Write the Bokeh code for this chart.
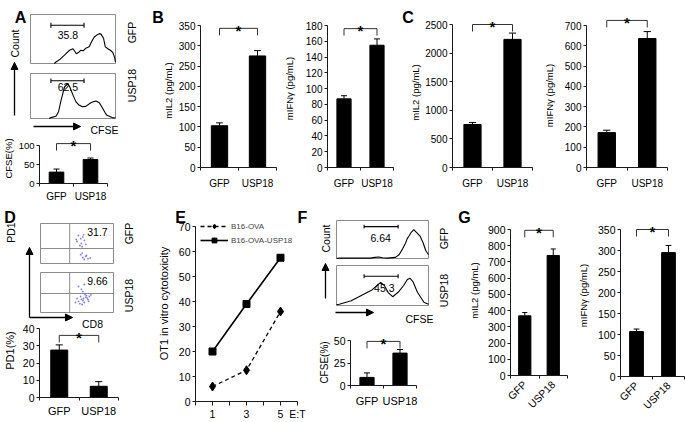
import math
from bokeh.plotting import figure
from bokeh.layouts import row, column
from bokeh.models import (Range1d, FixedTicker, Label, Arrow, NormalHead,
                          Legend, LegendItem)
from bokeh.core.properties import value
from bokeh.embed import file_html
from bokeh.resources import INLINE

# ---------------- data ----------------
cats = ["GFP", "USP18"]

a_cfse = [30, 63]
a_cfse_err = [8, 4]
b_il2 = [103, 275]
b_il2_err = [7, 13]
b_ifng = [87, 155]
b_ifng_err = [4, 8]
c_il2 = [752, 2240]
c_il2_err = [35, 110]
c_ifng = [172, 636]
c_ifng_err = [12, 34]
d_pd1 = [27.5, 6.5]
d_pd1_err = [3.0, 2.7]
f_cfse = [9, 36]
f_cfse_err = [5, 4]
g_il2 = [368, 740]
g_il2_err = [20, 40]
g_ifng = [107, 295]
g_ifng_err = [6, 17]

e_ratio = [1, 3, 5]
e_ova = [6, 12.5, 36]
e_ova_usp18 = [20, 39, 57.5]
e_series = ["B16-OVA", "B16-OVA-USP18"]

# CFSE histograms (x: CFSE channel 0-100, y: relative count 0-1)
a_gfp_x = [28, 30, 35, 40, 43, 46, 50, 54, 57, 59, 62, 65, 69, 72, 75, 78, 81, 83, 86, 88, 91, 94, 97, 99, 100]
a_gfp_y = [0.0, 0.03, 0.09, 0.17, 0.22, 0.27, 0.30, 0.20, 0.23, 0.27, 0.26, 0.31, 0.34, 0.45, 0.54, 0.58, 0.61, 0.60, 0.51, 0.34, 0.30, 0.27, 0.22, 0.12, 0.03]
a_usp_x = [22, 24, 30, 33, 36, 40, 44, 46.5, 50, 53.5, 57, 61, 65, 71, 74, 77, 81, 84.5, 88, 90, 96, 100]
a_usp_y = [0.0, 0.02, 0.05, 0.15, 0.41, 0.70, 0.78, 0.69, 0.52, 0.37, 0.30, 0.26, 0.27, 0.35, 0.37, 0.39, 0.35, 0.24, 0.12, 0.07, 0.02, 0.01]
a_gate = [24, 63]
a_gate_y = [0.78, 0.84]
a_pct = ["35.8", "62.5"]

f_gfp_x = [0, 3, 20, 37, 42, 46, 50, 55, 64, 68, 72, 75, 77, 79, 81, 84, 86, 88, 91, 94, 97, 100]
f_gfp_y = [0.0, 0.01, 0.01, 0.01, 0.03, 0.04, 0.02, 0.01, 0.03, 0.10, 0.26, 0.40, 0.53, 0.60, 0.68, 0.76, 0.71, 0.66, 0.58, 0.42, 0.21, 0.10]
f_usp_x = [0, 3, 16, 27, 38, 45, 48, 52, 56, 61, 67, 73, 77, 80, 83, 88, 95, 100]
f_usp_y = [0.02, 0.03, 0.12, 0.25, 0.38, 0.52, 0.58, 0.50, 0.33, 0.22, 0.33, 0.50, 0.65, 0.68, 0.60, 0.33, 0.08, 0.03]
f_gate = [30, 67]
f_gate_y = [0.84, 0.73]
f_pct = ["6.64", "45.3"]

# PD1 / CD8 flow dots (x: CD8, y: PD1, 0-100)
d_gfp_x = [52, 55, 58, 50, 56, 60, 54, 62, 57, 49, 59, 55, 58, 62, 60, 65, 57, 63, 68]
d_gfp_y = [70, 62, 66, 55, 50, 58, 45, 48, 42, 60, 72, 22, 15, 18, 10, 12, 26, 20, 14]
d_usp_x = [52, 56, 60, 58, 50, 55, 58, 62, 60, 65, 57, 63, 52, 67, 61, 54, 59, 66, 48, 64, 56, 69]
d_usp_y = [65, 58, 70, 52, 35, 40, 30, 38, 25, 32, 20, 42, 28, 40, 45, 22, 35, 28, 25, 36, 33, 44]
d_quad_x = 40
d_quad_y = [37.5, 47.5]
d_pct = ["31.7", "9.66"]

# plotting domains of the histogram / dot-plot boxes
HIST_X = (0, 100)
HIST_Y = (0, 1)
FLOW_XY = (0, 100)

# ---------------- helpers ----------------
FONT = "Liberation Sans"
AX = "#1a1a1a"
BOX = "#8c8c8c"
R90 = math.pi / 2


def prange(pa, va, pb, vb, p_start, p_end):
    k = (vb - va) / (pb - pa)
    return Range1d(va + (p_start - pa) * k, va + (p_end - pa) * k)


def panel(box, xr, yr):
    x0, y0, x1, y1 = box
    p = figure(width=x1 - x0, height=y1 - y0, x_range=xr, y_range=yr,
               toolbar_location=None, output_backend="svg",
               min_border_left=0, min_border_right=0, min_border_top=0, min_border_bottom=0)
    p.outline_line_color = None
    p.border_fill_color = "white"
    p.background_fill_color = "white"
    p.grid.visible = False
    return p


def text(p, box, x, y, s, size, angle=0.0, align="center", baseline="middle", bold=False):
    p.add_layout(Label(x=x - box[0], y=box[3] - y, x_units="screen", y_units="screen",
                       text=s, angle=angle, text_align=align, text_baseline=baseline,
                       text_font=FONT, text_font_size=f"{size}px",
                       text_font_style="bold" if bold else "normal", text_color="black"))


def arrow(p, box, x0, y0, x1, y1, head=True):
    p.add_layout(Arrow(x_start=x0 - box[0], y_start=box[3] - y0,
                       x_end=x1 - box[0], y_end=box[3] - y1,
                       start_units="screen", end_units="screen",
                       end=NormalHead(size=7, fill_color="black", line_color="black", line_width=1) if head else None,
                       line_color="black", line_width=1.3))


def bar_panel(box, ax, ax_end, py0, py_top, top_tick, step, vals, errs, brk, ylabel, ylab_xy,
              fs=(10, 10, 9.5), cat_standoff=7, rot=False):
    n = len(cats)
    xr = prange(ax, 0.5, ax_end, n + 0.5, box[0], box[2])
    yr = prange(py0, 0, py_top, top_tick, box[3], box[1])
    p = panel(box, xr, yr)
    xs = list(range(1, n + 1))
    p.vbar(x=xs, top=vals, width=0.43, fill_color="black", line_color="black")
    tops = [v + e for v, e in zip(vals, errs)]
    p.segment(x0=xs, y0=vals, x1=xs, y1=tops, line_color="black", line_width=1)
    p.segment(x0=[x - 0.09 for x in xs], y0=tops, x1=[x + 0.09 for x in xs], y1=tops,
              line_color="black", line_width=1)
    leg = 7 * top_tick / (py0 - py_top)
    p.line(x=[xs[0], xs[0], xs[-1], xs[-1]], y=[brk - leg, brk, brk, brk - leg],
           line_color="#333333", line_width=1)
    p.text(x=[(xs[0] + xs[-1]) / 2], y=[brk], text=["*"], text_align="center",
           text_baseline="alphabetic", text_font=value(FONT), text_font_size="15px",
           text_font_style="bold", y_offset=2, text_color="black")
    xa = p.xaxis[0]
    xa.fixed_location = 0
    xa.ticker = FixedTicker(ticks=xs, minor_ticks=[x - 0.5 for x in xs] + [xs[-1] + 0.5])
    xa.bounds = (0.5, n + 0.5)
    xa.major_label_overrides = {x: c for x, c in zip(xs, cats)}
    xa.major_tick_line_color = None
    xa.major_tick_out = 0
    xa.major_tick_in = 0
    xa.minor_tick_in = 0
    xa.minor_tick_out = 3
    xa.minor_tick_line_color = AX
    xa.axis_line_color = AX
    xa.major_label_text_font = FONT
    xa.major_label_text_font_size = f"{fs[1]}px"
    xa.major_label_text_color = "black"
    xa.major_label_standoff = cat_standoff
    if rot:
        xa.major_label_orientation = math.pi / 4
    ya = p.yaxis[0]
    ya.fixed_location = 0.5
    ya.ticker = FixedTicker(ticks=list(range(0, top_tick + 1, step)))
    ya.bounds = (0, top_tick)
    ya.major_tick_in = 0
    ya.major_tick_out = 3
    ya.major_tick_line_color = AX
    ya.minor_tick_line_color = None
    ya.axis_line_color = AX
    ya.major_label_standoff = 2
    ya.major_label_text_font = FONT
    ya.major_label_text_font_size = f"{fs[0]}px"
    ya.major_label_text_color = "black"
    text(p, box, ylab_xy[0], ylab_xy[1], ylabel, fs[2], angle=R90)
    return p


def add_hist(p, yname, xs, ys, gate, gy, pct, ptx, pty):
    kw = dict(x_range_name="hx", y_range_name=yname)
    p.quad(left=[HIST_X[0]], right=[HIST_X[1]], bottom=[HIST_Y[0]], top=[HIST_Y[1]],
           fill_color=None, line_color=BOX, line_width=1, **kw)
    p.line(xs, ys, line_color="black", line_width=1.1, **kw)
    p.segment(x0=[gate[0]], y0=[gy], x1=[gate[1]], y1=[gy], line_color="black", line_width=1.1, **kw)
    p.segment(x0=gate, y0=[gy - 0.05] * 2, x1=gate, y1=[gy + 0.05] * 2,
              line_color="black", line_width=1.1, **kw)
    p.text(x=[ptx], y=[pty], text=[pct], text_align="center", text_baseline="middle",
           text_font=value(FONT), text_font_size="10.5px", text_color="black", **kw)


def add_flow(p, yname, dx, dy, qx, qy, pct):
    kw = dict(x_range_name="fx", y_range_name=yname)
    lo, hi = FLOW_XY
    p.quad(left=[lo], right=[hi], bottom=[lo], top=[hi], fill_color=None, line_color=BOX,
           line_width=1, **kw)
    p.segment(x0=[qx, lo], y0=[lo, qy], x1=[qx, hi], y1=[hi, qy], line_color=BOX, line_width=1, **kw)
    p.scatter(dx, dy, size=1.8, fill_color="#4a4ad8", line_color=None, alpha=0.7, **kw)
    p.text(x=[78], y=[79], text=[pct], text_align="center", text_baseline="middle",
           text_font=value(FONT), text_font_size="10.5px", text_color="black", **kw)


# ---------------- panel A ----------------
bx = (0, 0, 150, 200)
pA = bar_panel(bx, 39, 107, 183, 145, 100, 50, a_cfse, a_cfse_err, 105, "CFSE(%)", (8, 158),
               fs=(9.5, 10, 9.5), cat_standoff=4)
pA.extra_x_ranges = {"hx": prange(30, HIST_X[0], 115, HIST_X[1], bx[0], bx[2])}
pA.extra_y_ranges = {"h1": prange(63, HIST_Y[0], 14, HIST_Y[1], bx[3], bx[1]),
                     "h2": prange(118, HIST_Y[0], 73, HIST_Y[1], bx[3], bx[1])}
add_hist(pA, "h1", a_gfp_x, a_gfp_y, a_gate, a_gate_y[0], a_pct[0], 44, 0.59)
add_hist(pA, "h2", a_usp_x, a_usp_y, a_gate, a_gate_y[1], a_pct[1], 44, 0.71)
text(pA, bx, 20, 17, "A", 16, baseline="alphabetic", bold=True)
text(pA, bx, 14, 43, "Count", 10.5, angle=R90)
arrow(pA, bx, 14, 115, 14, 62)
text(pA, bx, 131, 32, cats[0], 10.5, angle=R90)
text(pA, bx, 131, 85, cats[1], 10.5, angle=R90)
arrow(pA, bx, 33, 126, 80, 126)
text(pA, bx, 104, 129, "CFSE", 10.5)

# ---------------- panels B, C ----------------
bx = (150, 0, 280, 200)
pBl = bar_panel(bx, 200, 276, 167, 25, 350, 50, b_il2, b_il2_err, 343, "mIL2 (pg/mL)", (168, 90))
text(pBl, bx, 157.5, 17, "B", 16, baseline="alphabetic", bold=True)
bx = (280, 0, 398, 200)
pBr = bar_panel(bx, 327, 393, 167, 25, 180, 20, b_ifng, b_ifng_err, 176, "mIFN\u03b3 (pg/mL)", (289, 88))
bx = (398, 0, 538, 200)
pCl = bar_panel(bx, 452, 532, 167, 24, 2500, 500, c_il2, c_il2_err, 2500, "mIL2 (pg/mL)", (415, 92))
text(pCl, bx, 407.5, 17, "C", 16, baseline="alphabetic", bold=True)
bx = (538, 0, 685, 200)
pCr = bar_panel(bx, 586, 667, 167, 25, 700, 100, c_ifng, c_ifng_err, 725, "mIFN\u03b3 (pg/mL)", (549, 95))

top = row(pA, pBl, pBr, pCl, pCr)

# ---------------- panel D ----------------
bx = (0, 200, 150, 422)
pD = bar_panel(bx, 39, 118, 397, 328, 40, 10, d_pd1, d_pd1_err, 36, "PD1(%)", (9, 350),
               fs=(10.5, 11, 11), cat_standoff=4)
pD.extra_x_ranges = {"fx": prange(40, FLOW_XY[0], 113, FLOW_XY[1], bx[0], bx[2])}
pD.extra_y_ranges = {"f1": prange(263, FLOW_XY[0], 223, FLOW_XY[1], bx[3], bx[1]),
                     "f2": prange(312, FLOW_XY[0], 272, FLOW_XY[1], bx[3], bx[1])}
add_flow(pD, "f1", d_gfp_x, d_gfp_y, d_quad_x, d_quad_y[0], d_pct[0])
add_flow(pD, "f2", d_usp_x, d_usp_y, d_quad_x, d_quad_y[1], d_pct[1])
text(pD, bx, 9.5, 217, "D", 16, baseline="alphabetic", bold=True)
text(pD, bx, 10, 232, "PD1", 10.5, angle=R90)
arrow(pD, bx, 29, 317, 29, 247)
arrow(pD, bx, 29, 317, 72, 317)
text(pD, bx, 92, 323, "CD8", 10.5)
text(pD, bx, 128, 233, cats[0], 10.5, angle=R90)
text(pD, bx, 128, 295, cats[1], 10.5, angle=R90)

# ---------------- panel E ----------------
bx = (150, 200, 318, 422)
pE = panel(bx, prange(195, 0, 297, 6, bx[0], bx[2]), prange(401, 0, 226, 70, bx[3], bx[1]))
l1 = pE.line(e_ratio, e_ova, line_color="black", line_dash="4 3", line_width=1.3)
m1 = pE.scatter(e_ratio, e_ova, marker="diamond", size=9, fill_color="black", line_color="black")
l2 = pE.line(e_ratio, e_ova_usp18, line_color="black", line_width=1.6)
m2 = pE.scatter(e_ratio, e_ova_usp18, marker="square", size=7, fill_color="black", line_color="black")
leg = Legend(items=[LegendItem(label=e_series[0], renderers=[l1, m1]),
                    LegendItem(label=e_series[1], renderers=[l2, m2])],
             location=(200 - bx[0], bx[3] - 246), glyph_width=28, glyph_height=12, label_height=12,
             label_standoff=3, spacing=2, padding=0, margin=0, border_line_color=None,
             background_fill_alpha=0, label_text_font=FONT, label_text_font_size="8px")
pE.add_layout(leg)
xe = pE.xaxis[0]
xe.fixed_location = 0
xe.ticker = FixedTicker(ticks=e_ratio + [6], minor_ticks=list(range(0, 7)))
xe.bounds = (0, 6)
xe.major_label_overrides = {6: "E:T"}
xe.major_tick_line_color = None
xe.major_tick_out = 0
xe.minor_tick_in = 0
xe.minor_tick_out = 4
xe.minor_tick_line_color = AX
xe.axis_line_color = AX
xe.major_label_standoff = 2
xe.major_label_text_font = FONT
xe.major_label_text_font_size = "10.5px"
xe.major_label_text_color = "black"
ye = pE.yaxis[0]
ye.fixed_location = 0
ye.ticker = FixedTicker(ticks=list(range(0, 71, 10)))
ye.bounds = (0, 70)
ye.major_tick_in = 0
ye.major_tick_out = 3
ye.major_tick_line_color = AX
ye.minor_tick_line_color = None
ye.axis_line_color = AX
ye.major_label_standoff = 2
ye.major_label_text_font = FONT
ye.major_label_text_font_size = "10.5px"
ye.major_label_text_color = "black"
text(pE, bx, 163.5, 303, "OT1 in vitro cytotoxicity", 11, angle=R90)
text(pE, bx, 180, 217, "E", 16, baseline="alphabetic", bold=True)
text(pE, bx, 302, 217, "F", 16, baseline="alphabetic", bold=True)

# ---------------- panel F ----------------
bx = (318, 200, 455, 422)
pF = bar_panel(bx, 350, 416, 385, 340, 50, 25, f_cfse, f_cfse_err, 49, "CFSE(%)", (324, 362),
               fs=(10.5, 11, 10), cat_standoff=6)
pF.extra_x_ranges = {"hx": prange(336, HIST_X[0], 428, HIST_X[1], bx[0], bx[2])}
pF.extra_y_ranges = {"h1": prange(258, HIST_Y[0], 220, HIST_Y[1], bx[3], bx[1]),
                     "h2": prange(305, HIST_Y[0], 265, HIST_Y[1], bx[3], bx[1])}
add_hist(pF, "h1", f_gfp_x, f_gfp_y, f_gate, f_gate_y[0], f_pct[0], 48, 0.53)
add_hist(pF, "h2", f_usp_x, f_usp_y, f_gate, f_gate_y[1], f_pct[1], 52, 0.45)
text(pF, bx, 325, 238, "Count", 10.5, angle=R90)
arrow(pF, bx, 325, 298, 325, 263)
text(pF, bx, 443, 238, cats[0], 10.5, angle=R90)
text(pF, bx, 443, 290, cats[1], 10.5, angle=R90)
arrow(pF, bx, 335, 312, 373, 312)
text(pF, bx, 419, 318, "CFSE", 10.5)

# ---------------- panel G ----------------
bx = (455, 200, 577, 422)
pGl = bar_panel(bx, 510, 567, 375, 229, 900, 100, g_il2, g_il2_err, 895, "mIL2 (pg/mL)", (474, 290),
                fs=(10.5, 10.5, 9.5), cat_standoff=4, rot=True)
text(pGl, bx, 464, 217, "G", 16, baseline="alphabetic", bold=True)
bx = (577, 200, 685, 422)
pGr = bar_panel(bx, 620, 684, 376, 229, 350, 50, g_ifng, g_ifng_err, 350, "mIFN\u03b3 (pg/mL)", (583, 295),
                fs=(10.5, 10.5, 9.5), cat_standoff=4, rot=True)

bottom = row(pD, pE, pF, pGl, pGr)

p = column(top, bottom)
open("out.html", "w").write(file_html(p, INLINE))
